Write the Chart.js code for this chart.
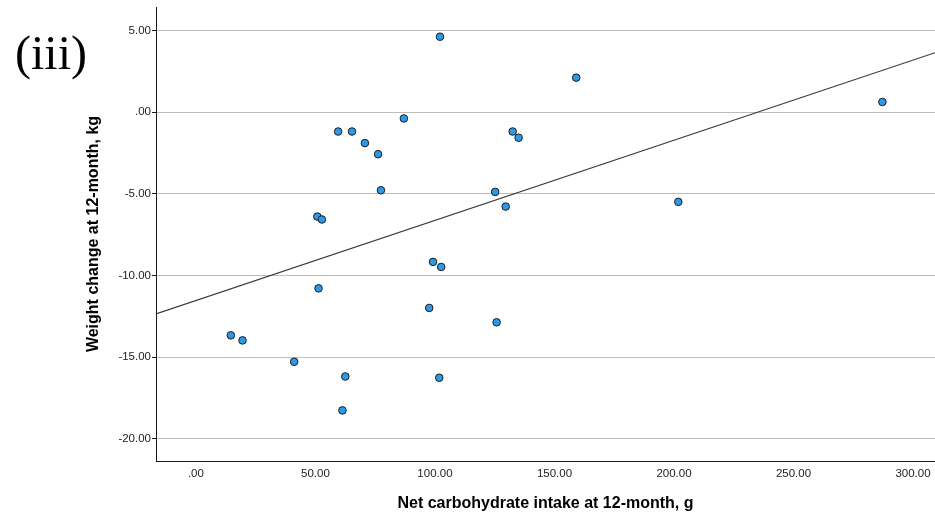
<!DOCTYPE html>
<html>
<head>
<meta charset="utf-8">
<script src="https://cdn.jsdelivr.net/npm/chart.js@4/dist/chart.umd.min.js"></script>
<style>
  html, body { margin: 0; padding: 0; background: #ffffff; }
  #wrap { position: relative; width: 935px; height: 516px; }
</style>
</head>
<body>
<div id="wrap"><canvas id="c" width="935" height="516"></canvas></div>
<script>
// ---- data ----
const panelLabel = '(iii)';
const xTitle = 'Net carbohydrate intake at 12-month, g';
const yTitle = 'Weight change at 12-month, kg';

const carbIntake = [102.1, 87.0, 59.5, 65.3, 70.7, 76.2, 77.4, 50.8, 52.7, 132.5, 135.0, 125.2, 129.6,
                    99.2, 102.6, 51.3, 97.6, 125.8, 14.6, 19.5, 41.1, 62.5, 101.8, 61.3,
                    159.1, 287.2, 201.8];
const weightChange = [4.63, -0.38, -1.18, -1.18, -1.89, -2.57, -4.78, -6.39, -6.57, -1.18, -1.56, -4.88, -5.78,
                      -9.17, -9.48, -10.79, -11.99, -12.87, -13.67, -13.98, -15.29, -16.19, -16.27, -18.27,
                      2.12, 0.63, -5.49];

const xTicks = [0, 50, 100, 150, 200, 250, 300];
const yTicks = [-20, -15, -10, -5, 0, 5];
const xRange = [-16.7, 309.2];
const yRange = [-21.37, 6.45];

// ---- derived: least-squares fit line from the data ----
const n = carbIntake.length;
const mx = carbIntake.reduce((a, b) => a + b, 0) / n;
const my = weightChange.reduce((a, b) => a + b, 0) / n;
let sxy = 0, sxx = 0;
for (let i = 0; i < n; i++) {
  sxy += (carbIntake[i] - mx) * (weightChange[i] - my);
  sxx += (carbIntake[i] - mx) * (carbIntake[i] - mx);
}
const slope = sxy / sxx;
const intercept = my - slope * mx;
const fitLine = xRange.map(x => ({ x: x, y: intercept + slope * x }));
const scatterPts = carbIntake.map((x, i) => ({ x: x, y: weightChange[i] }));

function fmt(v) {
  let s = Math.abs(v).toFixed(2);
  if (s.startsWith('0.')) s = s.slice(1);
  return (v < 0 ? '-' : '') + s;
}

const FONT = "'Liberation Sans', Arial, sans-serif";

const panelLabelPlugin = {
  id: 'panelLabel',
  afterDraw(chart) {
    const ctx = chart.ctx;
    ctx.save();
    ctx.font = "48px 'Liberation Serif', 'Times New Roman', serif";
    ctx.fillStyle = '#000';
    ctx.textAlign = 'left';
    ctx.textBaseline = 'alphabetic';
    ctx.fillText(panelLabel, 15, 69);
    ctx.restore();
  }
};

new Chart(document.getElementById('c'), {
  type: 'scatter',
  data: {
    datasets: [
      {
        type: 'line',
        data: fitLine,
        borderColor: '#3a3a3a',
        borderWidth: 1.2,
        pointRadius: 0,
        fill: false,
        order: 2
      },
      {
        data: scatterPts,
        backgroundColor: '#2b98e8',
        borderColor: '#1c1c1c',
        borderWidth: 1,
        pointRadius: 3.8,
        order: 1
      }
    ]
  },
  options: {
    responsive: false,
    animation: false,
    layout: { autoPadding: false, padding: { left: 80, right: 0, top: 7, bottom: 0 } },
    plugins: { legend: { display: false }, tooltip: { enabled: false } },
    scales: {
      x: {
        type: 'linear',
        min: xRange[0],
        max: xRange[1],
        afterBuildTicks(scale) { scale.ticks = xTicks.map(v => ({ value: v })); },
        afterFit(scale) { scale.height = 55; scale.paddingLeft = 0; scale.paddingRight = 0; },
        grid: { display: false, drawTicks: false },
        border: { display: true, color: '#1a1a1a', width: 1 },
        ticks: {
          padding: 6,
          maxRotation: 0,
          autoSkip: false,
          color: '#222',
          font: { family: FONT, size: 11.5 },
          callback: v => fmt(v)
        },
        title: {
          display: true,
          text: xTitle,
          color: '#000',
          font: { family: FONT, size: 16, weight: 'bold' },
          padding: { top: 0, bottom: 2.9 }
        }
      },
      y: {
        type: 'linear',
        min: yRange[0],
        max: yRange[1],
        afterBuildTicks(scale) { scale.ticks = yTicks.map(v => ({ value: v })); },
        afterFit(scale) { scale.width = 76; scale.paddingTop = 0; scale.paddingBottom = 0; },
        grid: {
          display: true,
          color: '#bdbdbd',
          lineWidth: 1,
          drawTicks: true,
          tickLength: 4,
          tickColor: '#1a1a1a'
        },
        border: { display: true, color: '#1a1a1a', width: 1 },
        ticks: {
          padding: 1,
          autoSkip: false,
          color: '#222',
          font: { family: FONT, size: 11.5 },
          callback: v => fmt(v)
        },
        title: {
          display: true,
          text: yTitle,
          color: '#000',
          font: { family: FONT, size: 16, weight: 'bold' },
          padding: { top: 4.4, bottom: 0 }
        }
      }
    }
  },
  plugins: [panelLabelPlugin]
});
</script>
</body>
</html>
